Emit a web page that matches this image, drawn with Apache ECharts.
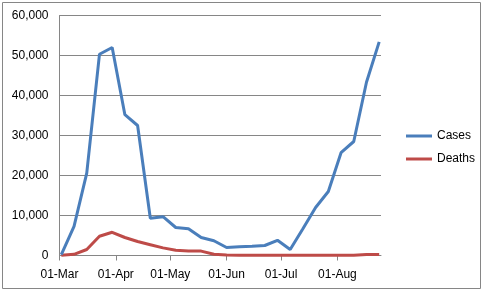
<!DOCTYPE html>
<html>
<head>
<meta charset="utf-8">
<script src="https://cdn.jsdelivr.net/npm/echarts@6/dist/echarts.min.js"></script>
<style>
html,body{margin:0;padding:0;background:#fff;}
#chart{width:483px;height:291px;}
</style>
</head>
<body>
<div id="chart"></div>
<script>
// Weekly dates (Mondays)
var weekDates = ['2020-03-02','2020-03-09','2020-03-16','2020-03-23','2020-03-30','2020-04-06','2020-04-13','2020-04-20','2020-04-27','2020-05-04','2020-05-11','2020-05-18','2020-05-25','2020-06-01','2020-06-08','2020-06-15','2020-06-22','2020-06-29','2020-07-06','2020-07-13','2020-07-20','2020-07-27','2020-08-03','2020-08-10','2020-08-17','2020-08-24'];
var cases = [200,7300,20600,50300,52000,35200,32500,9300,9700,7000,6700,4500,3700,2000,2200,2300,2500,3800,1500,6700,12000,16000,25700,28500,43300,53400];
var deaths = [50,300,1500,4800,5800,4500,3500,2700,1900,1300,1100,1100,300,100,80,60,50,40,40,40,40,50,60,80,250,250];
var tickDates = ['2020-03-01','2020-04-01','2020-05-01','2020-06-01','2020-07-01','2020-08-01'];
var tickLabels = ['01-Mar','01-Apr','01-May','01-Jun','01-Jul','01-Aug'];
var yTicks = [0,10000,20000,30000,40000,50000,60000];
var axisStart = '2020-03-01';
var axisEnd = '2020-08-25';

function dayNum(s){var p=s.split('-');return Math.round(Date.UTC(+p[0],+p[1]-1,+p[2])/86400000);}
var d0 = dayNum(axisStart);
function dx(s){return dayNum(s)-d0;}
var tickX = tickDates.map(dx);
var labelMap = {};
tickX.forEach(function(t,i){labelMap[t]=tickLabels[i];});

var chart = echarts.init(document.getElementById('chart'), null, {renderer:'canvas'});
var font = 'Liberation Sans, Arial, sans-serif';
chart.setOption({
  animation:false,
  backgroundColor:'#fff',
  graphic:[{type:'rect',shape:{x:2.5,y:2.5,width:478,height:286},style:{fill:'none',stroke:'#868686',lineWidth:1},silent:true}],
  grid:{left:59.5,right:102,top:15.5,bottom:35.5,containLabel:false},
  legend:{
    orient:'vertical',left:401,top:125,
    itemWidth:26,itemHeight:3,itemGap:11,icon:'rect',
    textStyle:{fontFamily:font,fontSize:12,color:'#000'},
    data:['Cases','Deaths']
  },
  xAxis:{
    type:'value',
    min:0,max:dx(axisEnd),
    axisLine:{lineStyle:{color:'#868686',width:1}},
    axisTick:{show:true,inside:false,length:5,lineStyle:{color:'#868686'},customValues:tickX},
    axisLabel:{customValues:tickX,formatter:function(v){return labelMap[v]||'';},fontFamily:font,fontSize:12,color:'#000',margin:13},
    splitLine:{show:false}
  },
  yAxis:{
    type:'value',min:yTicks[0],max:yTicks[yTicks.length-1],interval:10000,
    axisLine:{show:true,lineStyle:{color:'#868686',width:1}},
    axisTick:{show:false},
    axisLabel:{fontFamily:font,fontSize:12,color:'#000',margin:11,formatter:function(v){return v.toLocaleString('en-US');}},
    splitLine:{show:true,lineStyle:{color:'#868686',width:1}}
  },
  series:[
    {name:'Cases',type:'line',symbol:'none',data:weekDates.map(function(d,i){return [dx(d),cases[i]];}),lineStyle:{color:'#4A7EBB',width:3},itemStyle:{color:'#4A7EBB'},z:3},
    {name:'Deaths',type:'line',symbol:'none',data:weekDates.map(function(d,i){return [dx(d),deaths[i]];}),lineStyle:{color:'#BE4B48',width:3},itemStyle:{color:'#BE4B48'},z:2}
  ]
});
</script>
</body>
</html>
